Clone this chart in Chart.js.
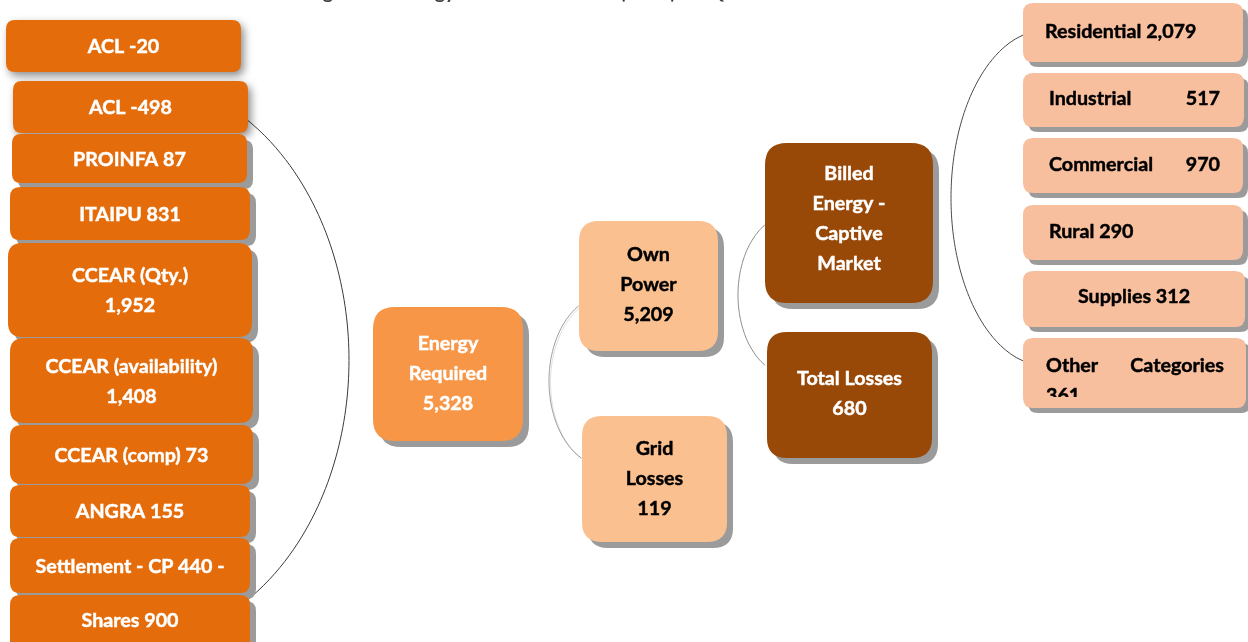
<!DOCTYPE html>
<html>
<head>
<meta charset="utf-8">
<script src="https://cdn.jsdelivr.net/npm/chart.js@4.4.1/dist/chart.umd.min.js"></script>
<style>
  html, body { margin: 0; padding: 0; background: #ffffff; }
  canvas { display: block; }
</style>
</head>
<body>
<canvas id="flow" width="1248" height="642"></canvas>
<script>
// Energy balance (GWh): purchase sources -> energy required -> own power / grid losses -> market
const titleText = 'Billing of the Energy Balance Structure (GWh) \u2013 2Q19';

const sourceNames  = ['ACL', 'ACL', 'PROINFA', 'ITAIPU', 'CCEAR (Qty.)', 'CCEAR (availability)', 'CCEAR (comp)', 'ANGRA', 'Settlement - CP', 'Shares'];
const sourceValues = [-20, -498, 87, 831, 1952, 1408, 73, 155, 440, 900];

const balanceNames  = ['Energy Required', 'Own Power', 'Grid Losses'];
const balanceValues = [5328, 5209, 119];

const marketNames  = ['Billed Energy - Captive Market', 'Total Losses'];
const marketValues = [null, 680];

const classNames  = ['Residential', 'Industrial', 'Commercial', 'Rural', 'Supplies', 'Other Categories'];
const classValues = [2079, 517, 970, 290, 312, 361];

const fmt = v => v.toLocaleString('en-US');

// split a name into stacked words, keeping a lone dash with the word before it
function stackWords(name) {
  const out = [];
  name.split(' ').forEach(w => {
    if (w === '-' && out.length) out[out.length - 1] += ' -';
    else out.push(w);
  });
  return out;
}

const C = {
  source: '#E46C0A',
  required: '#F79646',
  balance: '#FAC090',
  market: '#984807',
  cls: '#F8BF9F',
  shadow: '#9B9B9B'
};

// ---- box geometry (value space of the hidden x/y scales) ----
const sourceBoxes = [
  { x0: 6,  x1: 241, y0: 20,  y1: 72,  r: 9,  soft: true },
  { x0: 13, x1: 248, y0: 81,  y1: 133, r: 9,  soft: true },
  { x0: 12, x1: 247, y0: 134, y1: 183, r: 9 },
  { x0: 10, x1: 250, y0: 187, y1: 240, r: 10 },
  { x0: 8,  x1: 252, y0: 243, y1: 337, r: 14 },
  { x0: 10, x1: 253, y0: 338, y1: 423, r: 14 },
  { x0: 10, x1: 253, y0: 425, y1: 484, r: 12 },
  { x0: 10, x1: 250, y0: 485, y1: 537, r: 10 },
  { x0: 10, x1: 250, y0: 538, y1: 593, r: 10 },
  { x0: 10, x1: 250, y0: 595, y1: 662, r: 10 }
];
const balanceBoxes = [
  { x0: 373, x1: 523, y0: 307, y1: 441, r: 22, ty: 344 },
  { x0: 579, x1: 718, y0: 221, y1: 351, r: 20, ty: 255 },
  { x0: 582, x1: 727, y0: 416, y1: 542, r: 20, ty: 449 }
];
const marketBoxes = [
  { x0: 765, x1: 933, y0: 143, y1: 303, r: 22, ty: 174 },
  { x0: 767, x1: 932, y0: 332, y1: 458, r: 20, ty: 379 }
];
const classBoxes = [
  { x0: 1023, x1: 1243, y0: 3,   y1: 62,  r: 10, ty: 32,  mode: 'left',    tx0: 1045 },
  { x0: 1023, x1: 1244, y0: 73,  y1: 127, r: 10, ty: 99,  mode: 'justify', tx0: 1049, tx1: 1220 },
  { x0: 1023, x1: 1243, y0: 138, y1: 193, r: 10, ty: 165, mode: 'justify', tx0: 1049, tx1: 1220 },
  { x0: 1023, x1: 1243, y0: 205, y1: 260, r: 10, ty: 232, mode: 'left',    tx0: 1049 },
  { x0: 1023, x1: 1245, y0: 271, y1: 327, r: 10, ty: 297, mode: 'center' },
  { x0: 1023, x1: 1246, y0: 338, y1: 408, r: 10, ty: 366, mode: 'justify', tx0: 1046, tx1: 1224, clipBottom: 397 }
];

// ---- connector brackets: elliptical arcs (centre, radii, side, end heights) ----
const brackets = [
  { cx: 135,  cy: 360, rx: 214, ry: 282, side: 1,  yA: 117, yB: 604, color: '#3a3a3a', w: 1 },
  { cx: 605,  cy: 381, rx: 56,  ry: 85,  side: -1, yA: 306, yB: 458, color: '#9a9a9a', w: 1, halo: true },
  { cx: 790,  cy: 295, rx: 52,  ry: 80,  side: -1, yA: 225, yB: 365, color: '#8a8a8a', w: 1 },
  { cx: 1046, cy: 198, rx: 95,  ry: 168, side: -1, yA: 35,  yB: 362, color: '#4a4a4a', w: 1 }
];

function roundRect(ctx, x, y, w, h, r) {
  ctx.beginPath();
  ctx.moveTo(x + r, y);
  ctx.lineTo(x + w - r, y);
  ctx.quadraticCurveTo(x + w, y, x + w, y + r);
  ctx.lineTo(x + w, y + h - r);
  ctx.quadraticCurveTo(x + w, y + h, x + w - r, y + h);
  ctx.lineTo(x + r, y + h);
  ctx.quadraticCurveTo(x, y + h, x, y + h - r);
  ctx.lineTo(x, y + r);
  ctx.quadraticCurveTo(x, y, x + r, y);
  ctx.closePath();
}

const flowPlugin = {
  id: 'energyFlow',
  afterDraw(chart) {
    const ctx = chart.ctx;
    const sx = chart.scales.x, sy = chart.scales.y;
    const X = v => sx.getPixelForValue(v);
    const Y = v => sy.getPixelForValue(v);

    // font size tuned so the widest label fits its box
    const family = 'Lato, "Open Sans", sans-serif';
    ctx.save();
    ctx.font = 'bold 100px ' + family;
    const fs = 100 * 172 / ctx.measureText('CCEAR (availability)').width;
    ctx.restore();
    const font = `bold ${fs.toFixed(2)}px ${family}`;
    const lineGap = 30;

    // heavier bold: fill plus a hairline stroke in the same colour
    function label(text, x, y) {
      ctx.fillText(text, x, y);
      ctx.lineWidth = 0.45;
      ctx.strokeStyle = ctx.fillStyle;
      ctx.strokeText(text, x, y);
    }

    // title (sits above the visible area, only its descenders reach the top edge)
    ctx.save();
    ctx.font = font;
    ctx.fillStyle = '#404040';
    ctx.textAlign = 'left';
    ctx.textBaseline = 'alphabetic';
    const pre = titleText.slice(0, titleText.indexOf('('));
    ctx.fillText(titleText, X(620) - ctx.measureText(pre).width, Y(0) - 1);
    ctx.restore();

    // connectors
    brackets.forEach(b => {
      const pts = [];
      for (let i = 0; i <= 80; i++) {
        const yy = b.yA + (b.yB - b.yA) * i / 80;
        const d = (yy - b.cy) / b.ry;
        const xx = b.cx + b.side * b.rx * Math.sqrt(Math.max(0, 1 - d * d));
        pts.push([X(xx), Y(yy)]);
      }
      const stroke = (dx, dy, col) => {
        ctx.beginPath();
        pts.forEach((p, i) => i ? ctx.lineTo(p[0] + dx, p[1] + dy) : ctx.moveTo(p[0] + dx, p[1] + dy));
        ctx.strokeStyle = col;
        ctx.lineWidth = b.w;
        ctx.stroke();
      };
      ctx.save();
      if (b.halo) stroke(1.5, 1.5, '#dedede');
      stroke(0, 0, b.color);
      ctx.restore();
    });

    function drawBox(box, fill) {
      const x = X(box.x0), y = Y(box.y0), w = X(box.x1) - x, h = Y(box.y1) - y;
      ctx.save();
      if (box.soft) {
        ctx.shadowColor = 'rgba(0,0,0,0.45)';
        ctx.shadowBlur = 8;
        ctx.shadowOffsetX = 3;
        ctx.shadowOffsetY = 4;
      } else {
        const off = box.shadowOff || 6;
        ctx.filter = 'blur(0.6px)';
        roundRect(ctx, x + off, y + off, w, h, box.r);
        ctx.fillStyle = C.shadow;
        ctx.fill();
        ctx.filter = 'none';
      }
      roundRect(ctx, x, y, w, h, box.r);
      ctx.fillStyle = fill;
      ctx.fill();
      ctx.restore();
    }

    function drawLines(lines, cx, firstY, color) {
      ctx.save();
      ctx.font = font;
      ctx.fillStyle = color;
      ctx.textAlign = 'center';
      ctx.textBaseline = 'middle';
      lines.forEach((t, i) => label(t, X(cx), Y(firstY + i * lineGap)));
      ctx.restore();
    }

    // purchase sources
    sourceNames.forEach((name, i) => {
      const b = sourceBoxes[i];
      drawBox(b, C.source);
      const v = fmt(sourceValues[i]);
      let lines;
      if (name.startsWith('CCEAR (') && name !== 'CCEAR (comp)') lines = [name, v];
      else if (name === 'Settlement - CP') lines = [name + ' ' + v + ' -'];
      else lines = [name + ' ' + v];
      const cy = (b.y0 + Math.min(b.y1, 645)) / 2 + 1;
      drawLines(lines, (b.x0 + b.x1) / 2, cy - (lines.length - 1) * lineGap / 2, '#ffffff');
    });

    // energy required / own power / grid losses
    balanceNames.forEach((name, i) => {
      const b = balanceBoxes[i];
      drawBox(Object.assign({ shadowOff: 6 }, b), i === 0 ? C.required : C.balance);
      drawLines(stackWords(name).concat([fmt(balanceValues[i])]), (b.x0 + b.x1) / 2, b.ty, i === 0 ? '#ffffff' : '#000000');
    });

    // billed energy / total losses
    marketNames.forEach((name, i) => {
      const b = marketBoxes[i];
      drawBox(Object.assign({ shadowOff: 6 }, b), C.market);
      const lines = marketValues[i] === null ? stackWords(name) : [name, fmt(marketValues[i])];
      drawLines(lines, (b.x0 + b.x1) / 2, b.ty, '#ffffff');
    });

    // consumer classes
    classNames.forEach((name, i) => {
      const b = classBoxes[i];
      drawBox(Object.assign({ shadowOff: 5 }, b), C.cls);
      const v = fmt(classValues[i]);
      ctx.save();
      ctx.font = font;
      ctx.fillStyle = '#000000';
      ctx.textBaseline = 'middle';
      if (b.clipBottom) {
        ctx.beginPath();
        ctx.rect(X(b.x0), Y(b.y0), X(b.x1) - X(b.x0), Y(b.clipBottom) - Y(b.y0));
        ctx.clip();
      }
      if (b.mode === 'left') {
        ctx.textAlign = 'left';
        label(name + ' ' + v, X(b.tx0), Y(b.ty));
      } else if (b.mode === 'center') {
        ctx.textAlign = 'center';
        label(name + ' ' + v, X((b.x0 + b.x1) / 2), Y(b.ty));
      } else {
        const words = (name + ' ' + v).split(' ');
        ctx.textAlign = 'left';
        label(words[0], X(b.tx0), Y(b.ty));
        ctx.textAlign = 'right';
        label(words[1], X(b.tx1), Y(b.ty));
        if (words.length > 2) {
          // remainder wraps to a second line
          ctx.textAlign = 'left';
          label(words.slice(2).join(' '), X(b.tx0), Y(b.ty + lineGap));
        }
      }
      ctx.restore();
    });
  }
};

new Chart(document.getElementById('flow'), {
  type: 'scatter',
  data: { datasets: [] },
  options: {
    responsive: false,
    animation: false,
    devicePixelRatio: 1,
    layout: { padding: 0 },
    plugins: { legend: { display: false }, tooltip: { enabled: false }, title: { display: false } },
    scales: {
      x: { type: 'linear', min: 0, max: 1248, display: false },
      y: { type: 'linear', min: 0, max: 642, reverse: true, display: false }
    }
  },
  plugins: [flowPlugin]
});
</script>
</body>
</html>
